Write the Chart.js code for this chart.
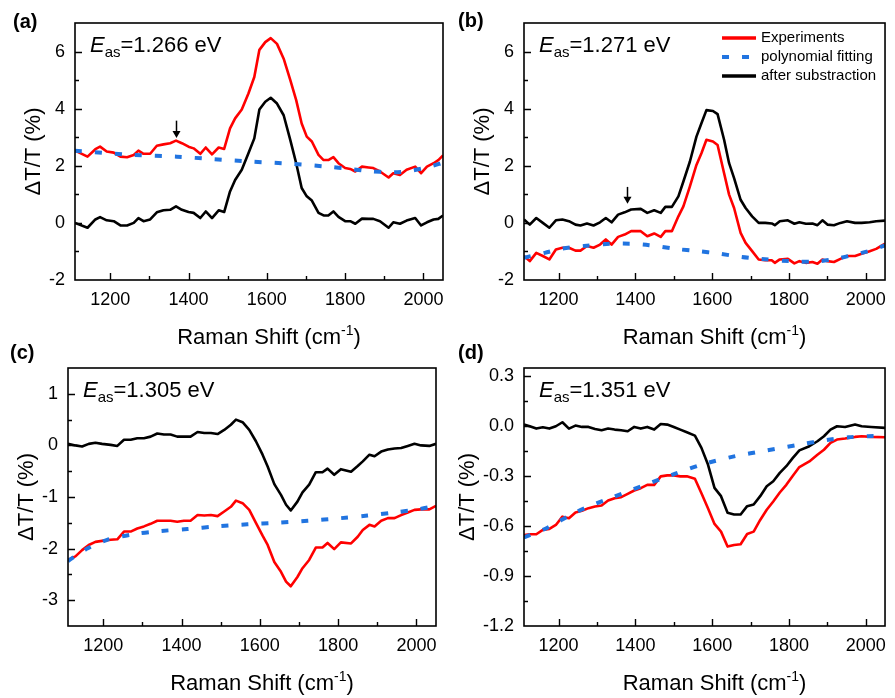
<!DOCTYPE html>
<html>
<head>
<meta charset="utf-8">
<title>Raman difference spectra</title>
<script src="https://cdn.jsdelivr.net/npm/chart.js@4.4.1/dist/chart.umd.min.js"></script>
<style>
  html, body { margin: 0; padding: 0; background: #fff; }
  #wrap { position: relative; width: 895px; height: 698px; }
  #wrap canvas { position: absolute; left: 0; top: 0; }
</style>
</head>
<body>
<div id="wrap">
  <canvas id="chartA" width="895" height="698"></canvas>
  <canvas id="chartB" width="895" height="698"></canvas>
  <canvas id="chartC" width="895" height="698"></canvas>
  <canvas id="chartD" width="895" height="698"></canvas>
</div>
<script>
// ---- spectra (Raman shift in cm-1, dT/T in %) ----
const X_TICKS = [1200, 1400, 1600, 1800, 2000];

// (a) Eas = 1.266 eV
const RAMAN_A = [1110,1142,1162,1174,1191,1209,1226,1243,1260,1272,1285,1302,1319,1336,1353,1368,1383,1400,1413,1430,
  1444,1460,1477,1491,1506,1519,1536,1553,1568,1581,1596,1610,1626,1643,1660,1675,1689,1702,1715,1732,
  1745,1757,1770,1783,1800,1813,1826,1843,1860,1872,1889,1911,1923,1940,1957,1979,1994,2009,2026,2038,2050];
const EXP_A = [2.53,2.32,2.58,2.67,2.5,2.46,2.32,2.3,2.38,2.53,2.42,2.42,2.7,2.75,2.79,2.88,2.79,2.67,2.61,2.42,
  2.64,2.4,2.64,2.59,3.31,3.66,3.97,4.53,5.11,6.06,6.33,6.47,6.27,5.75,5.0,4.3,3.48,3.02,2.85,2.38,
  2.2,2.2,2.3,2.09,1.92,1.89,1.8,1.97,1.94,1.92,1.8,1.59,1.74,1.68,1.86,1.97,1.74,1.97,2.09,2.2,2.36];
const SUB_A = [0,-0.17,0.12,0.2,0.09,0.06,-0.09,-0.09,0,0.17,0.06,0.12,0.37,0.44,0.46,0.58,0.46,0.38,0.35,0.17,
  0.4,0.17,0.44,0.38,1.1,1.5,1.86,2.44,2.96,3.97,4.24,4.38,4.18,3.77,2.9,2.09,1.22,0.93,0.78,0.35,
  0.26,0.26,0.4,0.21,0.06,0.06,-0.03,0.15,0.14,0.14,0.06,-0.17,0.02,-0.03,0.08,0.17,-0.09,0.02,0.12,0.14,0.26];
const FIT_RAMAN_A = [1110,1260,1370,1464,1557,1660,1753,1813,1855,1923,1966,2017,2050];
const FIT_A = [2.53,2.38,2.32,2.23,2.15,2.07,1.97,1.89,1.82,1.77,1.82,1.97,2.11];
const Y_TICKS_A = [-2, 0, 2, 4, 6];

// (b) Eas = 1.271 eV
const RAMAN_B = [1110,1125,1142,1159,1176,1193,1210,1227,1244,1257,1274,1291,1308,1323,1338,1355,1372,1389,1414,1431,
  1449,1466,1478,1495,1512,1525,1542,1559,1572,1585,1602,1614,1631,1644,1657,1674,1687,1704,1721,1738,
  1755,1763,1776,1797,1814,1827,1844,1861,1874,1887,1900,1917,1934,1951,1972,1989,2010,2027,2050];
const EXP_B = [-1.16,-1.34,-1.05,-1.16,-1.28,-0.93,-0.87,-0.87,-0.97,-0.97,-0.81,-0.87,-0.76,-0.58,-0.76,-0.49,-0.41,-0.29,-0.29,-0.47,
  -0.37,-0.49,-0.29,-0.29,0.23,0.58,1.28,2.03,2.44,2.91,2.85,2.73,1.74,0.99,0.52,-0.35,-0.7,-0.99,-1.28,-1.31,
  -1.31,-1.4,-1.28,-1.26,-1.42,-1.34,-1.4,-1.37,-1.43,-1.28,-1.34,-1.37,-1.26,-1.16,-1.16,-1.08,-0.99,-0.91,-0.73];
const SUB_B = [0.12,-0.06,0.17,0,-0.17,0.09,0.12,0.06,-0.06,-0.09,-0.02,-0.09,0.02,0.17,0.02,0.29,0.37,0.47,0.49,0.35,
  0.44,0.35,0.56,0.56,0.93,1.45,2.15,3.02,3.49,3.95,3.92,3.81,2.91,2.09,1.57,0.81,0.52,0.23,0,0,
  -0.02,-0.08,0.06,0.09,-0.03,0.02,-0.03,-0.02,-0.08,0.09,-0.06,-0.08,0,0.06,0,0,0.02,0.06,0.08];
const FIT_RAMAN_B = [1110,1164,1206,1266,1334,1385,1436,1504,1563,1615,1674,1726,1802,1862,1913,1956,2007,2050];
const FIT_B = [-1.22,-1.05,-0.91,-0.81,-0.73,-0.73,-0.78,-0.91,-0.99,-1.07,-1.19,-1.26,-1.34,-1.36,-1.28,-1.16,-0.99,-0.79];
const Y_TICKS_B = [-2, 0, 2, 4, 6];

// (c) Eas = 1.305 eV
const RAMAN_C = [1110,1129,1146,1163,1180,1197,1219,1236,1253,1270,1287,1304,1321,1338,1355,1372,1389,1406,1423,1441,
  1458,1475,1492,1509,1526,1539,1556,1573,1590,1607,1620,1637,1654,1667,1679,1696,1709,1726,1743,1760,
  1773,1790,1807,1833,1850,1863,1880,1893,1910,1927,1944,1961,1978,1995,2012,2033,2050];
const EXP_C = [-2.22,-2.15,-2.03,-1.93,-1.87,-1.85,-1.83,-1.82,-1.67,-1.67,-1.61,-1.57,-1.52,-1.46,-1.46,-1.46,-1.48,-1.46,-1.46,-1.35,
  -1.36,-1.35,-1.37,-1.28,-1.19,-1.07,-1.12,-1.25,-1.5,-1.75,-1.93,-2.26,-2.45,-2.64,-2.73,-2.55,-2.38,-2.22,-1.98,-1.98,
  -1.89,-2.01,-1.88,-1.9,-1.77,-1.64,-1.54,-1.57,-1.46,-1.41,-1.41,-1.35,-1.3,-1.25,-1.24,-1.24,-1.17];
const SUB_C = [0.03,0,-0.02,0.03,0.05,0.03,0.01,-0.01,0.11,0.11,0.14,0.14,0.17,0.23,0.21,0.21,0.17,0.17,0.17,0.26,
  0.24,0.24,0.22,0.3,0.4,0.5,0.45,0.3,0.08,-0.18,-0.41,-0.75,-0.96,-1.15,-1.26,-1.09,-0.91,-0.76,-0.52,-0.52,
  -0.45,-0.57,-0.46,-0.51,-0.4,-0.31,-0.18,-0.21,-0.12,-0.08,-0.06,-0.05,-0.01,0.03,0,-0.01,0.03];
const FIT_RAMAN_C = [1110,1159,1210,1278,1346,1415,1491,1568,1645,1722,1807,1875,1943,2003,2050];
const FIT_C = [-2.24,-2.0,-1.83,-1.72,-1.66,-1.62,-1.57,-1.53,-1.5,-1.46,-1.41,-1.36,-1.3,-1.24,-1.17];
const Y_TICKS_C = [-3, -2, -1, 0, 1];

// (d) Eas = 1.351 eV
const RAMAN_D = [1110,1125,1142,1159,1176,1193,1210,1227,1244,1261,1278,1295,1312,1329,1346,1363,1380,1397,1414,1431,
  1449,1466,1483,1500,1517,1534,1555,1572,1589,1606,1623,1640,1657,1674,1691,1708,1725,1742,1759,1776,
  1793,1810,1827,1853,1874,1891,1908,1925,1946,1972,1989,2014,2050];
const EXP_D = [-0.653,-0.649,-0.649,-0.623,-0.617,-0.593,-0.543,-0.553,-0.518,-0.508,-0.492,-0.482,-0.476,-0.446,-0.432,-0.426,-0.406,-0.386,-0.372,-0.352,
  -0.352,-0.301,-0.295,-0.295,-0.301,-0.301,-0.315,-0.402,-0.492,-0.587,-0.633,-0.723,-0.713,-0.709,-0.647,-0.633,-0.563,-0.502,-0.452,-0.398,
  -0.352,-0.297,-0.245,-0.211,-0.171,-0.141,-0.1,-0.08,-0.074,-0.064,-0.06,-0.064,-0.066];
const SUB_D = [0.01,0,-0.014,-0.006,-0.014,0,0.024,-0.014,0.004,-0.004,-0.004,-0.016,-0.024,-0.014,-0.02,-0.024,-0.03,-0.004,-0.014,-0.004,
  -0.02,0.014,0.01,-0.004,-0.02,-0.036,-0.056,-0.13,-0.23,-0.37,-0.42,-0.52,-0.53,-0.53,-0.48,-0.47,-0.42,-0.36,-0.33,-0.28,
  -0.24,-0.19,-0.145,-0.12,-0.09,-0.06,-0.02,0,-0.004,0.01,0,-0.004,-0.01];
const FIT_RAMAN_D = [1110,1163,1249,1334,1419,1504,1572,1657,1742,1828,1896,1955,2006,2050];
const FIT_D = [-0.667,-0.619,-0.512,-0.432,-0.358,-0.285,-0.231,-0.181,-0.145,-0.11,-0.084,-0.066,-0.06,-0.056];
const Y_TICKS_D = [-1.2, -0.9, -0.6, -0.3, 0.0, 0.3];

const SERIES_NAMES = ['Experiments', 'polynomial fitting', 'after substraction'];

const FONT = "'Liberation Sans', Arial, sans-serif";
const RED = '#ff0000';
const BLUE = '#2174e0';
const BLACK = '#000000';

function pts(xs, ys) {
  return xs.map((x, i) => ({ x: x, y: ys[i] }));
}

// draws a run of text pieces with their own fonts and vertical shifts
function drawRich(ctx, x, y, parts) {
  parts.forEach(p => {
    ctx.font = p.font;
    ctx.fillText(p.text, x, y + (p.dy || 0));
    x += ctx.measureText(p.text).width;
  });
}
function richWidth(ctx, parts) {
  let w = 0;
  parts.forEach(p => { ctx.font = p.font; w += ctx.measureText(p.text).width; });
  return w;
}

// major ticks plus the half-way minor ticks inside [min, max]
function tickMarks(values, min, max) {
  const s = values[1] - values[0];
  const eps = s * 0.05;
  const out = values.filter(v => v > min + eps && v < max - eps).map(v => [v, true]);
  for (let k = -10; k < 30; k++) {
    const v = values[0] - s / 2 + k * s;
    if (v > min + eps && v < max - eps) out.push([v, false]);
  }
  return out;
}

const panelDecor = {
  id: 'panelDecor',
  afterDraw(chart, args, o) {
    const ctx = chart.ctx;
    const a = chart.chartArea;
    const xs = chart.scales.x, ys = chart.scales.y;
    ctx.save();

    // box around the plot
    ctx.strokeStyle = '#000';
    ctx.lineWidth = 1.6;
    ctx.strokeRect(a.left, a.top, a.right - a.left, a.bottom - a.top);

    // ticks pointing inwards
    ctx.lineWidth = 1.4;
    ctx.beginPath();
    tickMarks(xs.ticks.map(t => t.value), xs.min, xs.max).forEach(([v, major]) => {
      const px = Math.round(xs.getPixelForValue(v)) + 0.5;
      ctx.moveTo(px, a.bottom);
      ctx.lineTo(px, a.bottom - (major ? 7 : 4));
    });
    tickMarks(ys.ticks.map(t => t.value), ys.min, ys.max).forEach(([v, major]) => {
      const py = Math.round(ys.getPixelForValue(v)) + 0.5;
      ctx.moveTo(a.left, py);
      ctx.lineTo(a.left + (major ? 7 : 4), py);
    });
    ctx.stroke();

    ctx.fillStyle = '#000';
    ctx.textBaseline = 'alphabetic';
    ctx.textAlign = 'left';

    // panel letter
    ctx.font = 'bold 20px ' + FONT;
    ctx.fillText(o.label, o.labelX, o.labelY);

    // excitation energy
    drawRich(ctx, a.left + 15, a.top + 29, [
      { text: 'E', font: 'italic 22px ' + FONT },
      { text: 'as', font: '15px ' + FONT, dy: 5 },
      { text: '=' + o.eas + ' eV', font: '22px ' + FONT }
    ]);

    // x axis title
    const xt = [
      { text: 'Raman Shift (cm', font: '22px ' + FONT },
      { text: '-1', font: '14px ' + FONT, dy: -9 },
      { text: ')', font: '22px ' + FONT }
    ];
    const cx = (a.left + a.right) / 2 + 10;
    drawRich(ctx, cx - richWidth(ctx, xt) / 2, a.bottom + 64, xt);

    // y axis title
    ctx.font = '18px ' + FONT;
    const lw = Math.max.apply(null, ys.ticks.map(t => ctx.measureText(t.label).width));
    ctx.save();
    ctx.translate(a.left - 10 - lw - 15, (a.top + a.bottom) / 2);
    ctx.rotate(-Math.PI / 2);
    ctx.font = '22px ' + FONT;
    ctx.textAlign = 'center';
    ctx.textBaseline = 'middle';
    ctx.fillText('\u0394T/T (%)', 0, 0);
    ctx.restore();

    // arrow marking the weak feature
    if (o.arrow) {
      const px = Math.round(xs.getPixelForValue(o.arrow.x)) + 0.5;
      const y0 = ys.getPixelForValue(o.arrow.top);
      const y1 = ys.getPixelForValue(o.arrow.tip);
      ctx.lineWidth = 1.5;
      ctx.beginPath();
      ctx.moveTo(px, y0);
      ctx.lineTo(px, y1 - 5);
      ctx.stroke();
      ctx.beginPath();
      ctx.moveTo(px - 4, y1 - 7);
      ctx.lineTo(px + 4, y1 - 7);
      ctx.lineTo(px, y1);
      ctx.closePath();
      ctx.fill();
    }

    // legend
    if (o.legend) {
      const styles = [
        { color: RED, width: 3.3, dash: [] },
        { color: BLUE, width: 4, dash: [7, 13] },
        { color: BLACK, width: 3.3, dash: [] }
      ];
      const lx = a.right - 163, ly = a.top + 15;
      ctx.font = '15px ' + FONT;
      ctx.textBaseline = 'middle';
      SERIES_NAMES.forEach((name, i) => {
        const y = ly + i * 19;
        ctx.strokeStyle = styles[i].color;
        ctx.lineWidth = styles[i].width;
        ctx.setLineDash(styles[i].dash);
        ctx.beginPath();
        ctx.moveTo(lx, y);
        ctx.lineTo(lx + 34, y);
        ctx.stroke();
        ctx.setLineDash([]);
        ctx.fillStyle = '#000';
        ctx.fillText(name, lx + 39, y);
      });
    }
    ctx.restore();
  }
};

function makePanel(id, p) {
  const tickFont = { family: FONT, size: 18 };
  return new Chart(document.getElementById(id), {
    type: 'scatter',
    data: {
      datasets: [
        { label: SERIES_NAMES[1], data: pts(p.fitX, p.fit), showLine: true, borderColor: BLUE,
          borderWidth: 4, borderDash: [7, 13], tension: 0.3, pointRadius: 0, borderCapStyle: 'butt' },
        { label: SERIES_NAMES[0], data: pts(p.x, p.exp), showLine: true, borderColor: RED,
          borderWidth: 2.6, tension: 0, pointRadius: 0, borderJoinStyle: 'round' },
        { label: SERIES_NAMES[2], data: pts(p.x, p.sub), showLine: true, borderColor: BLACK,
          borderWidth: 2.6, tension: 0, pointRadius: 0, borderJoinStyle: 'round' }
      ]
    },
    plugins: [panelDecor],
    options: {
      responsive: false,
      animation: false,
      events: [],
      layout: { padding: { left: 0, top: p.box.top, right: 895 - p.box.right, bottom: 698 - p.box.bottom - 40 } },
      plugins: {
        legend: { display: false },
        tooltip: { enabled: false },
        panelDecor: { label: p.label, labelX: p.labelX, labelY: p.labelY, eas: p.eas, legend: p.legend, arrow: p.arrow }
      },
      scales: {
        x: {
          type: 'linear', min: 1110, max: 2050,
          grid: { display: false, drawTicks: false }, border: { display: false },
          afterFit(s) { s.height = 40; },
          afterBuildTicks(s) { s.ticks = X_TICKS.map(v => ({ value: v })); },
          ticks: { padding: 9, color: '#000', font: tickFont, maxRotation: 0, autoSkip: false,
                   callback: v => String(v) }
        },
        y: {
          type: 'linear', min: p.yMin, max: p.yMax,
          grid: { display: false, drawTicks: false }, border: { display: false },
          afterFit(s) { s.width = p.box.left; },
          afterBuildTicks(s) { s.ticks = p.yTicks.map(v => ({ value: v })); },
          ticks: { padding: 10, color: '#000', font: tickFont, autoSkip: false,
                   callback: v => Number(v).toFixed(p.digits) }
        }
      }
    }
  });
}

makePanel('chartA', {
  x: RAMAN_A, exp: EXP_A, sub: SUB_A, fitX: FIT_RAMAN_A, fit: FIT_A,
  yMin: -2, yMax: 7, yTicks: Y_TICKS_A, digits: 0,
  box: { left: 75, top: 23, right: 443, bottom: 280 },
  label: '(a)', labelX: 13, labelY: 28, eas: '1.266',
  arrow: { x: 1368, top: 3.58, tip: 2.97 }
});
makePanel('chartB', {
  x: RAMAN_B, exp: EXP_B, sub: SUB_B, fitX: FIT_RAMAN_B, fit: FIT_B,
  yMin: -2, yMax: 7, yTicks: Y_TICKS_B, digits: 0,
  box: { left: 524, top: 23, right: 892, bottom: 280 },
  label: '(b)', labelX: 458, labelY: 27, eas: '1.271', legend: true,
  arrow: { x: 1377, top: 1.26, tip: 0.67 }
});
makePanel('chartC', {
  x: RAMAN_C, exp: EXP_C, sub: SUB_C, fitX: FIT_RAMAN_C, fit: FIT_C,
  yMin: -3.5, yMax: 1.5, yTicks: Y_TICKS_C, digits: 0,
  box: { left: 68, top: 368, right: 436, bottom: 626 },
  label: '(c)', labelX: 10, labelY: 359, eas: '1.305'
});
makePanel('chartD', {
  x: RAMAN_D, exp: EXP_D, sub: SUB_D, fitX: FIT_RAMAN_D, fit: FIT_D,
  yMin: -1.2, yMax: 0.35, yTicks: Y_TICKS_D, digits: 1,
  box: { left: 524, top: 368, right: 892, bottom: 626 },
  label: '(d)', labelX: 458, labelY: 359, eas: '1.351'
});
</script>
</body>
</html>
